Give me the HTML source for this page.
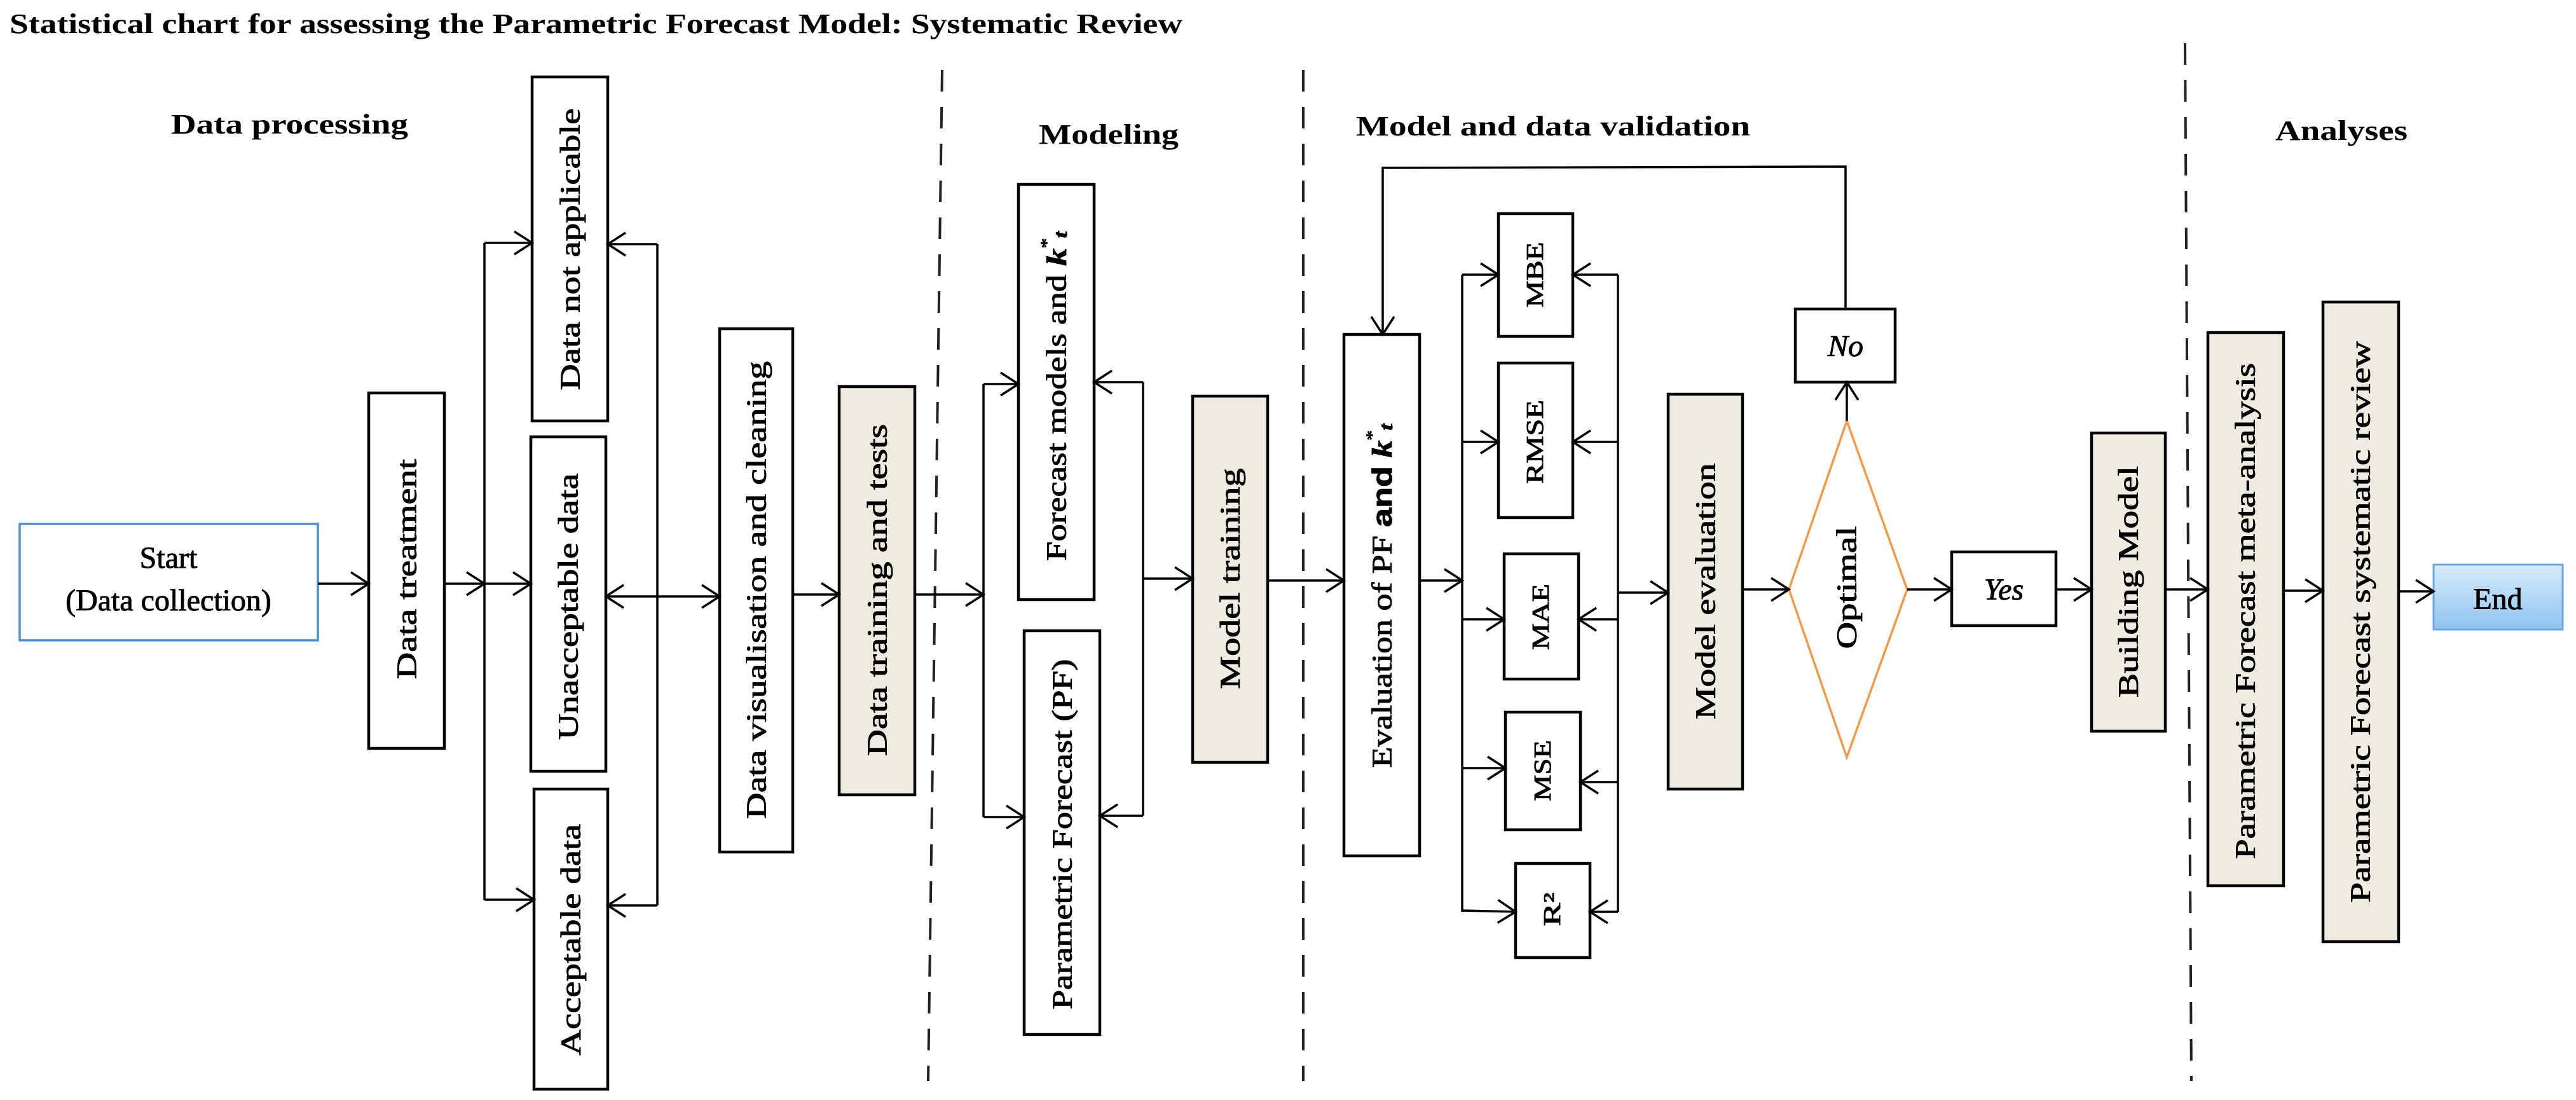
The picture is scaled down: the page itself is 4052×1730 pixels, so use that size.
<!DOCTYPE html>
<html><head><meta charset="utf-8"><style>
html,body{margin:0;padding:0;background:#fff;}
svg{display:block;}
text{font-family:"Liberation Serif",serif;fill:#000;}
.t{stroke:#000;stroke-width:0.9;}
</style></head><body>
<svg width="4052" height="1730" viewBox="0 0 4052 1730" xmlns="http://www.w3.org/2000/svg">
<defs>
<marker id="a" markerUnits="userSpaceOnUse" markerWidth="40" markerHeight="44" refX="30" refY="20" orient="auto">
<path d="M2,2 L30,20 L2,38" fill="none" stroke="#000" stroke-width="3.5"/>
</marker>
<linearGradient id="bg" x1="0" y1="0" x2="0" y2="1"><stop offset="0" stop-color="#d8ecfb"/><stop offset="1" stop-color="#8ec4f0"/></linearGradient>
</defs>

<text x="15" y="52" font-size="44" font-weight="bold" textLength="1845" lengthAdjust="spacingAndGlyphs">Statistical chart for assessing the Parametric Forecast Model: Systematic Review</text>
<text x="269" y="210" font-size="44" font-weight="bold" textLength="373" lengthAdjust="spacingAndGlyphs">Data processing</text>
<text x="1634" y="226" font-size="44" font-weight="bold" textLength="220" lengthAdjust="spacingAndGlyphs">Modeling</text>
<text x="2133" y="213" font-size="44" font-weight="bold" textLength="620" lengthAdjust="spacingAndGlyphs">Model and data  validation</text>
<text x="3579" y="220" font-size="44" font-weight="bold" textLength="208" lengthAdjust="spacingAndGlyphs">Analyses</text>

<g stroke="#222" stroke-width="4" stroke-dasharray="34,24" fill="none">
<line x1="1482" y1="110" x2="1460" y2="1700"/>
<line x1="2050" y1="110" x2="2050" y2="1700"/>
<line x1="3437" y1="68" x2="3447" y2="1700"/>
</g>

<g stroke="#000" stroke-width="4.5" fill="#fff">
<rect x="31" y="824" width="469" height="183" stroke="#4a8fd0" stroke-width="3.5"/>
<rect x="580" y="618" width="119" height="559"/>
<rect x="837" y="121" width="119" height="541"/>
<rect x="835" y="687" width="118" height="526"/>
<rect x="840" y="1241" width="116" height="472"/>
<rect x="1132" y="517" width="115" height="823"/>
<rect x="1320" y="608" width="119" height="642" fill="#eeebe0"/>
<rect x="1602" y="290" width="119" height="653"/>
<rect x="1611" y="992" width="119" height="635"/>
<rect x="1876" y="623" width="118" height="576" fill="#eeebe0"/>
<rect x="2114" y="526" width="119" height="820"/>
<rect x="2357" y="336" width="117" height="193"/>
<rect x="2357" y="571" width="117" height="243"/>
<rect x="2366" y="871" width="117" height="197"/>
<rect x="2368" y="1120" width="118" height="185"/>
<rect x="2384" y="1358" width="117" height="148"/>
<rect x="2624" y="620" width="117" height="621" fill="#eeebe0"/>
<rect x="2824" y="486" width="157" height="115"/>
<rect x="3070" y="868" width="164" height="116"/>
<rect x="3290" y="681" width="116" height="469" fill="#eeebe0"/>
<rect x="3473" y="523" width="119" height="870" fill="#eeebe0"/>
<rect x="3654" y="475" width="119" height="1006" fill="#eeebe0"/>
<rect x="3828" y="888" width="203" height="102" fill="url(#bg)" stroke="#6aa7dc" stroke-width="3"/>
</g>
<polygon points="2905,662 3000,927 2905,1191 2814,927" fill="#fff" stroke="#f39a4a" stroke-width="3.5"/>

<g stroke="#000" stroke-width="3.5" fill="none">
<line x1="500" y1="918" x2="580" y2="918" marker-end="url(#a)"/>
<line x1="699" y1="918" x2="762" y2="918" marker-end="url(#a)"/>
<line x1="762" y1="918" x2="835" y2="918" marker-end="url(#a)"/>
<line x1="762" y1="382" x2="762" y2="1415"/>
<line x1="762" y1="382" x2="837" y2="382" marker-end="url(#a)"/>
<line x1="762" y1="1415" x2="840" y2="1415" marker-end="url(#a)"/>
<line x1="1034" y1="384" x2="1034" y2="1424"/>
<line x1="1034" y1="384" x2="956" y2="384" marker-end="url(#a)"/>
<line x1="1034" y1="1424" x2="956" y2="1424" marker-end="url(#a)"/>
<line x1="1034" y1="938" x2="953" y2="938" marker-end="url(#a)"/>
<line x1="1034" y1="938" x2="1132" y2="938" marker-end="url(#a)"/>
<line x1="1247" y1="935" x2="1320" y2="935" marker-end="url(#a)"/>
<line x1="1439" y1="935" x2="1547" y2="935" marker-end="url(#a)"/>
<line x1="1547" y1="604" x2="1547" y2="1285"/>
<line x1="1547" y1="604" x2="1602" y2="604" marker-end="url(#a)"/>
<line x1="1547" y1="1285" x2="1611" y2="1285" marker-end="url(#a)"/>
<line x1="1798" y1="601" x2="1798" y2="1283"/>
<line x1="1798" y1="601" x2="1721" y2="601" marker-end="url(#a)"/>
<line x1="1798" y1="1283" x2="1730" y2="1283" marker-end="url(#a)"/>
<line x1="1798" y1="910" x2="1876" y2="910" marker-end="url(#a)"/>
<line x1="1994" y1="913" x2="2114" y2="913" marker-end="url(#a)"/>
<line x1="2233" y1="913" x2="2300" y2="913" marker-end="url(#a)"/>
<line x1="2300" y1="432" x2="2300" y2="1434"/>
<line x1="2300" y1="432" x2="2357" y2="432" marker-end="url(#a)"/>
<line x1="2300" y1="695" x2="2357" y2="695" marker-end="url(#a)"/>
<line x1="2300" y1="974" x2="2366" y2="974" marker-end="url(#a)"/>
<line x1="2300" y1="1208" x2="2368" y2="1208" marker-end="url(#a)"/>
<line x1="2300" y1="1432" x2="2384" y2="1434" marker-end="url(#a)"/>
<line x1="2545" y1="432" x2="2545" y2="1434"/>
<line x1="2545" y1="432" x2="2474" y2="432" marker-end="url(#a)"/>
<line x1="2545" y1="695" x2="2474" y2="695" marker-end="url(#a)"/>
<line x1="2545" y1="974" x2="2483" y2="974" marker-end="url(#a)"/>
<line x1="2545" y1="1230" x2="2486" y2="1230" marker-end="url(#a)"/>
<line x1="2545" y1="1434" x2="2501" y2="1434" marker-end="url(#a)"/>
<line x1="2545" y1="932" x2="2624" y2="932" marker-end="url(#a)"/>
<line x1="2741" y1="927" x2="2814" y2="927" marker-end="url(#a)"/>
<line x1="2905" y1="662" x2="2905" y2="601" marker-end="url(#a)"/>
<polyline points="2903,486 2903,262 2175,264 2175,526" marker-end="url(#a)"/>
<line x1="3000" y1="927" x2="3070" y2="927" marker-end="url(#a)"/>
<line x1="3234" y1="927" x2="3290" y2="927" marker-end="url(#a)"/>
<line x1="3406" y1="927" x2="3473" y2="927" marker-end="url(#a)"/>
<line x1="3592" y1="929" x2="3654" y2="929" marker-end="url(#a)"/>
<line x1="3773" y1="930" x2="3828" y2="930" marker-end="url(#a)"/>
</g>

<g class="t">
<text x="265" y="893" font-size="48" text-anchor="middle">Start</text>
<text x="265" y="960" font-size="48" text-anchor="middle">(Data collection)</text>
<text x="2903" y="560" font-size="48" font-style="italic" text-anchor="middle">No</text>
<text x="3152" y="943" font-size="48" font-style="italic" text-anchor="middle">Yes</text>
<text x="3929" y="958" font-size="48" text-anchor="middle">End</text>
</g>

<g class="t" font-size="44" text-anchor="middle" dominant-baseline="central">
<text transform="translate(640,895) rotate(-90)" textLength="346" lengthAdjust="spacingAndGlyphs">Data treatment</text>
<text transform="translate(897,392) rotate(-90)" textLength="443" lengthAdjust="spacingAndGlyphs">Data not applicable</text>
<text transform="translate(894,954) rotate(-90)" textLength="419" lengthAdjust="spacingAndGlyphs">Unacceptable data</text>
<text transform="translate(898,1478) rotate(-90)" textLength="364" lengthAdjust="spacingAndGlyphs">Acceptable data</text>
<text transform="translate(1190,928) rotate(-90)" textLength="720" lengthAdjust="spacingAndGlyphs">Data visualisation and cleaning</text>
<text transform="translate(1380,928) rotate(-90)" textLength="522" lengthAdjust="spacingAndGlyphs">Data training and tests</text>
<text transform="translate(1662,623) rotate(-90)" textLength="518" lengthAdjust="spacingAndGlyphs">Forecast models and <tspan font-style="italic" font-weight="bold">k</tspan><tspan font-size="26" dy="-16">*</tspan><tspan font-size="30" font-style="italic" font-weight="bold" dy="22">t</tspan></text>
<text transform="translate(1671,1312) rotate(-90)" textLength="551" lengthAdjust="spacingAndGlyphs">Parametric Forecast (PF)</text>
<text transform="translate(1935,910) rotate(-90)" textLength="347" lengthAdjust="spacingAndGlyphs">Model training</text>
<text transform="translate(2174,937) rotate(-90)" textLength="541" lengthAdjust="spacingAndGlyphs">Evaluation of PF <tspan font-family="Liberation Sans, sans-serif" font-weight="bold">and</tspan> <tspan font-style="italic" font-weight="bold">k</tspan><tspan font-size="26" dy="-16">*</tspan><tspan font-size="30" font-style="italic" font-weight="bold" dy="22">t</tspan></text>
<text transform="translate(2683,930) rotate(-90)" textLength="403" lengthAdjust="spacingAndGlyphs">Model evaluation</text>
<text transform="translate(2905,924) rotate(-90)" textLength="193" lengthAdjust="spacingAndGlyphs">Optimal</text>
<text transform="translate(3348,915) rotate(-90)" textLength="364" lengthAdjust="spacingAndGlyphs">Building  Model</text>
<text transform="translate(3532,961) rotate(-90)" textLength="780" lengthAdjust="spacingAndGlyphs">Parametric Forecast meta-analysis</text>
<text transform="translate(3713,978) rotate(-90)" textLength="883" lengthAdjust="spacingAndGlyphs">Parametric Forecast  systematic review</text>
</g>
<g class="t" font-size="38" text-anchor="middle" dominant-baseline="central">
<text transform="translate(2415,432) rotate(-90)" textLength="103" lengthAdjust="spacingAndGlyphs">MBE</text>
<text transform="translate(2415,695) rotate(-90)" textLength="132" lengthAdjust="spacingAndGlyphs">RMSE</text>
<text transform="translate(2424,970) rotate(-90)" textLength="104" lengthAdjust="spacingAndGlyphs">MAE</text>
<text transform="translate(2427,1212) rotate(-90)" textLength="96" lengthAdjust="spacingAndGlyphs">MSE</text>
<text transform="translate(2442,1430) rotate(-90)" textLength="53" lengthAdjust="spacingAndGlyphs">R²</text>
</g>
</svg>
</body></html>
